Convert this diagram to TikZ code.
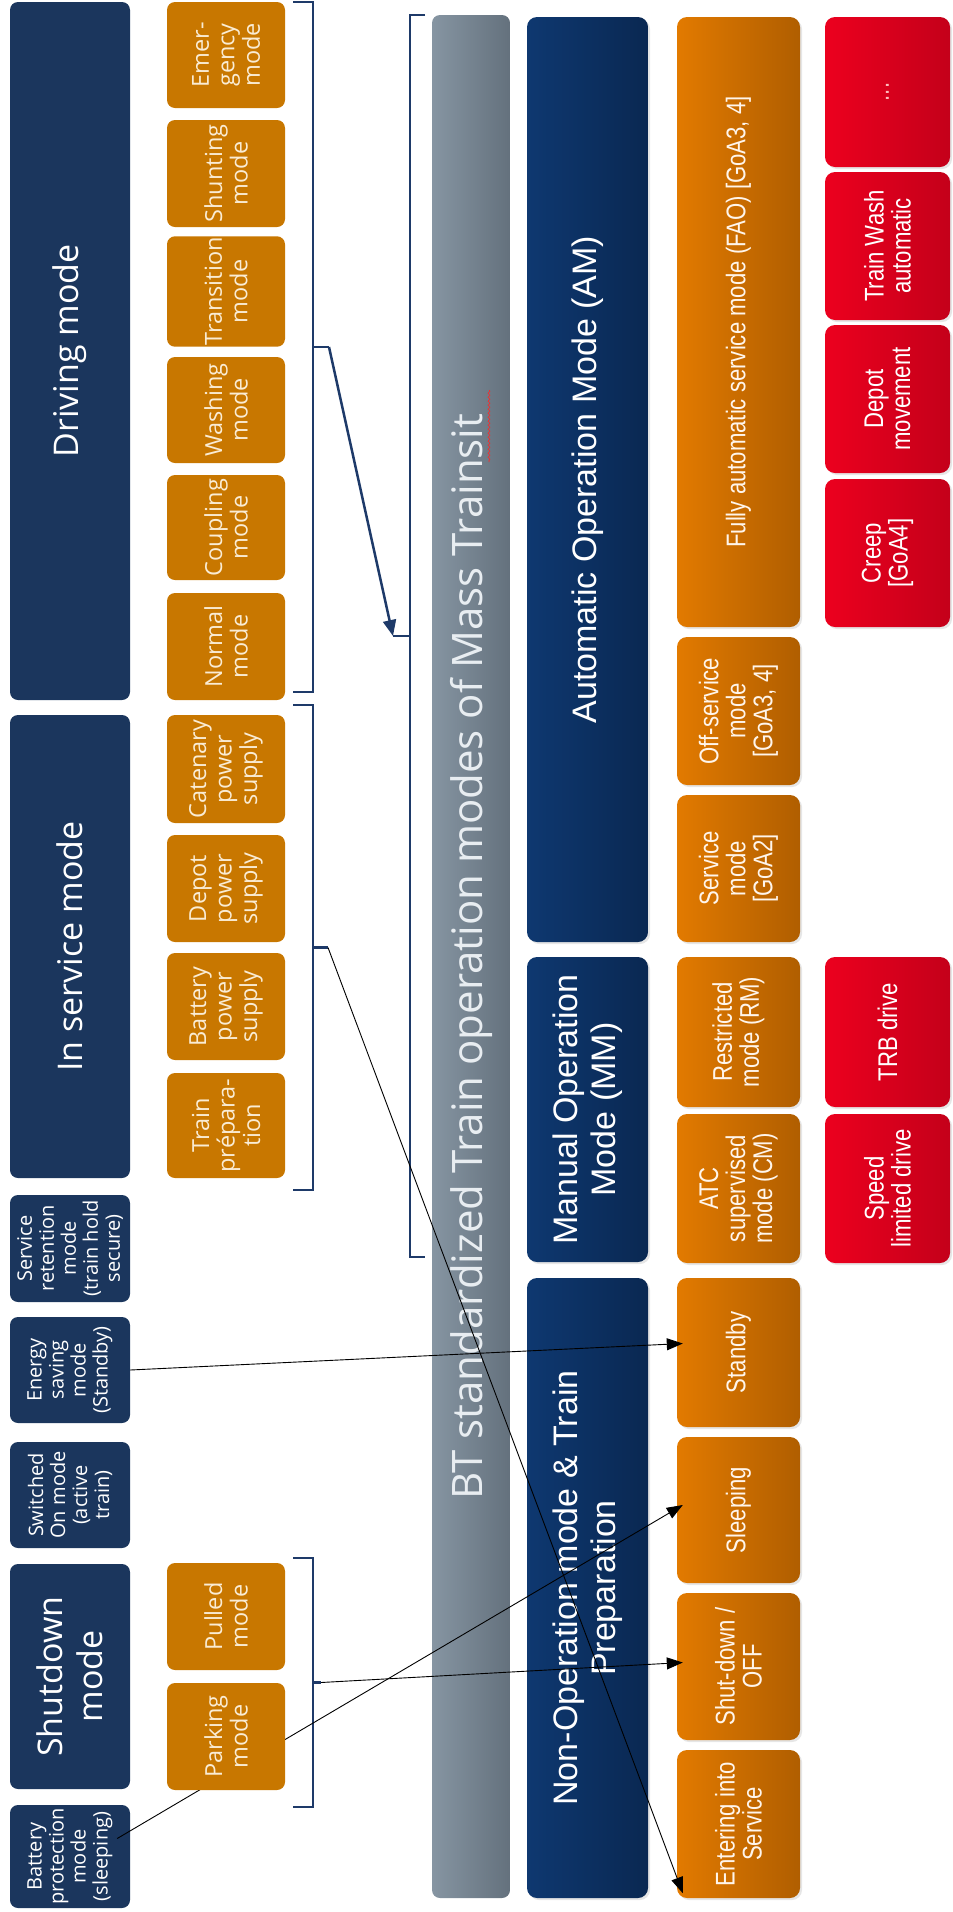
\documentclass[tikz,border=0pt]{standalone}
\usepackage{fontspec}
\usetikzlibrary{arrows.meta,shadows,decorations.pathmorphing}
\newfontfamily\opensans{Open Sans}
\newfontfamily\arialfont{Liberation Sans}
\newfontfamily\narrowfont[FakeStretch=0.82]{Liberation Sans}

\definecolor{navyL}{RGB}{27,54,93}
\definecolor{orangeL}{RGB}{200,119,0}
\definecolor{creamT}{RGB}{250,236,212}
\definecolor{barA}{RGB}{134,149,162}
\definecolor{barB}{RGB}{100,113,125}
\definecolor{barT}{RGB}{232,237,241}
\definecolor{opA}{RGB}{14,56,112}
\definecolor{opB}{RGB}{10,40,82}
\definecolor{subA}{RGB}{226,122,0}
\definecolor{subB}{RGB}{176,94,0}
\definecolor{redA}{RGB}{236,0,30}
\definecolor{redB}{RGB}{196,0,26}
\definecolor{braceblue}{RGB}{30,58,105}

\tikzset{
  modebase/.style={rotate=90, align=center, inner sep=1pt},
  groupbox/.style={modebase, fill=navyL, rounded corners=8pt, text=white, font=\opensans\fontsize{34}{40}\selectfont},
  statebox/.style={groupbox, font=\opensans\fontsize{20}{22}\selectfont},
  submodebox/.style={modebase, fill=orangeL, rounded corners=8pt, text=creamT, font=\opensans\fontsize{23.5}{25.5}\selectfont},
  titlebar/.style={modebase, left color=barA, right color=barB, rounded corners=8pt, text=barT, font=\opensans\fontsize{42}{48}\selectfont},
  opbox/.style={modebase, left color=opA, right color=opB, rounded corners=10pt, text=white, font=\arialfont\fontsize{34}{38}\selectfont, drop shadow={opacity=0.2, shadow xshift=2pt, shadow yshift=-2pt}},
  gradebox/.style={modebase, left color=subA, right color=subB, rounded corners=10pt, text=white!92!orange, font=\narrowfont\fontsize{27}{27}\selectfont, drop shadow={opacity=0.2, shadow xshift=2pt, shadow yshift=-2pt}},
  autobox/.style={gradebox, left color=redA, right color=redB, text=white},
  bracket/.style={draw=braceblue, line width=2.5pt},
  link/.style={draw=black, line width=0.9pt, -{Triangle[length=16pt,width=12pt]}},
  bracelink/.style={draw=braceblue, line width=2.5pt, -{Triangle[length=16pt,width=13pt]}},
}

% box by its corners: name, x1, y1, x2, y2, style, text
\newcommand{\modebox}[7]{\node[#6, minimum width={(#5-#3)*1pt}, minimum height={(#4-#2)*1pt}] (#1) at ({(#2+#4)/2},{-(#3+#5)/2}) {#7};}
% bracket: name of tip, x, ytop, ybot, hook, tip
\newcommand{\modebrace}[6]{\draw[bracket] ({#2+(#5)},-#3) -- (#2,-#3) -- (#2,-#4) -- ({#2+(#5)},-#4);
  \coordinate (#1) at ({#2+(#6)},{-(#3+#4)/2});
  \draw[bracket] (#2,{-(#3+#4)/2}) -- (#1);}

\begin{document}
\begin{tikzpicture}[x=1pt, y=1pt]
\useasboundingbox (0,0) rectangle (953,-1912);

% groups
\modebox{drive}{10}{2}{130}{700}{groupbox}{Driving mode}
\modebox{inservice}{10}{715}{130}{1178}{groupbox}{In service mode}
\modebox{retention}{10}{1195}{130}{1302}{statebox}{Service\\retention\\mode\\(train hold\\secure)}
\modebox{energy}{10}{1317}{130}{1423}{statebox}{Energy\\saving\\mode\\(Standby)}
\modebox{switched}{10}{1442}{130}{1548}{statebox}{Switched\\On mode\\(active\\train)}
\modebox{shutdownm}{10}{1564}{130}{1789}{groupbox}{Shutdown\\mode}
\modebox{batprot}{10}{1805}{130}{1908}{statebox}{Battery\\protection\\mode\\(sleeping)}

% sub modes
\modebox{emergency}{167}{2}{285}{108}{submodebox}{Emer-\\gency\\mode}
\modebox{shunting}{167}{120}{285}{227}{submodebox}{Shunting\\mode}
\modebox{transition}{167}{238}{285}{345}{submodebox}{Transition\\mode}
\modebox{washing}{167}{357}{285}{463}{submodebox}{Washing\\mode}
\modebox{coupling}{167}{475}{285}{580}{submodebox}{Coupling\\mode}
\modebox{normal}{167}{593}{285}{700}{submodebox}{Normal\\mode}
\modebox{catenary}{167}{715}{285}{823}{submodebox}{Catenary\\power\\supply}
\modebox{depotpow}{167}{835}{285}{942}{submodebox}{Depot\\power\\supply}
\modebox{batterypow}{167}{953}{285}{1060}{submodebox}{Battery\\power\\supply}
\modebox{trainprep}{167}{1073}{285}{1178}{submodebox}{Train\\prépara-\\tion}
\modebox{pulled}{167}{1563}{285}{1670}{submodebox}{Pulled\\mode}

% title bar
\modebox{title}{432}{15}{510}{1898}{titlebar}{BT standardized Train operation modes of Mass Trainsit}
\draw[red!85!white, line width=0.6pt, decorate, decoration={snake, amplitude=1pt, segment length=4pt}] (489,-390) -- (489,-462);

% operation modes
\modebox{am}{527}{17}{648}{942}{opbox}{Automatic Operation Mode (AM)}
\modebox{mm}{527}{957}{648}{1262}{opbox}{Manual Operation\\Mode (MM)}
\modebox{nonop}{527}{1278}{648}{1898}{opbox}{Non-Operation mode \& Train\\Preparation}

\modebox{fao}{677}{17}{800}{627}{gradebox}{Fully automatic service mode (FAO) [GoA3, 4]}
\modebox{offserv}{677}{637}{800}{785}{gradebox}{Off-service\\mode\\{[GoA3, 4]}}
\modebox{servmode}{677}{795}{800}{942}{gradebox}{Service\\mode\\{[GoA2]}}
\modebox{restricted}{677}{957}{800}{1107}{gradebox}{Restricted\\mode (RM)}
\modebox{atc}{677}{1114}{800}{1263}{gradebox}{ATC\\supervised\\mode (CM)}
\modebox{standby}{677}{1278}{800}{1427}{gradebox}{Standby}
\modebox{sleeping}{677}{1437}{800}{1583}{gradebox}{Sleeping}
\modebox{shutoff}{677}{1593}{800}{1740}{gradebox}{Shut-down /\\OFF}
\modebox{entering}{677}{1750}{800}{1898}{gradebox}{Entering into\\Service}

\modebox{more}{825}{17}{950}{167}{autobox}{\textcolor{white!75!red}{...}}
\modebox{wash}{825}{172}{950}{320}{autobox}{Train Wash\\automatic}
\modebox{depotmov}{825}{325}{950}{473}{autobox}{Depot\\movement}
\modebox{creep}{825}{479}{950}{627}{autobox}{Creep\\{[GoA4]}}
\modebox{trb}{825}{957}{950}{1107}{autobox}{TRB drive}
\modebox{speed}{825}{1114}{950}{1263}{autobox}{Speed\\limited drive}

% brackets
\modebrace{drivetip}{313}{2}{692}{-20}{16}
\modebrace{servicetip}{313}{705}{1190}{-20}{15}
\modebrace{shuttip}{313}{1558}{1807}{-20}{8}
\modebrace{bttip}{410}{15}{1257}{15}{-17}

% connectors
\draw[bracelink] (drivetip) -- (bttip);
\draw[link] (servicetip) -- ([xshift=6pt,yshift=5pt]entering.north west);
\draw[link] (shuttip) -- ([xshift=6pt,yshift=4pt]shutoff.north);
\draw[link] (energy.south) -- ([xshift=6pt,yshift=9pt]standby.north);
\draw[link] ([xshift=-13pt,yshift=18pt]batprot.south) -- ([xshift=6pt,yshift=5pt]sleeping.north);

% drawn last, over the line to Sleeping
\modebox{parking}{167}{1683}{285}{1790}{submodebox}{Parking\\mode}

\end{tikzpicture}
\end{document}
